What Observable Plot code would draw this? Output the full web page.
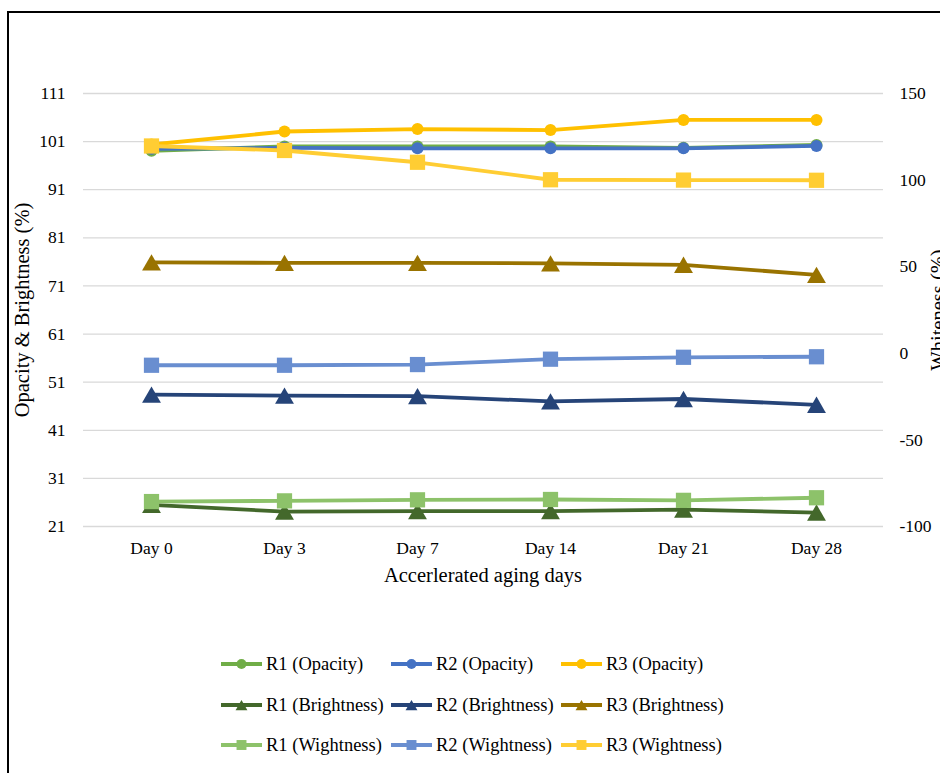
<!DOCTYPE html>
<html>
<head>
<meta charset="utf-8">
<script src="https://cdn.jsdelivr.net/npm/d3@7"></script>
<script src="https://cdn.jsdelivr.net/npm/@observablehq/plot@0.6"></script>
<style>
  html, body { margin: 0; padding: 0; background: #fff; }
  body { width: 940px; height: 773px; overflow: hidden; position: relative; font-family: "Liberation Serif", "Times New Roman", serif; color: #000; }
  #frame { position: absolute; left: 7px; top: 11px; width: 1200px; height: 1200px; border-left: 2px solid #000; border-top: 2px solid #000; }
  #chart { position: absolute; left: 0; top: 0; }
  .title { position: absolute; font-size: 20.5px; line-height: 1; white-space: nowrap; }
  .legend-item { position: absolute; height: 20px; display: flex; align-items: center; font-size: 18.5px; line-height: 20px; white-space: nowrap; }
  .legend-item svg { display: block; margin-right: 4px; }
</style>
</head>
<body>
<div id="frame"></div>
<div id="chart"></div>
<div class="title" id="xtitle" style="left:483px; top:575px; transform: translate(-50%,-50%);">Accerlerated aging days</div>
<div class="title" id="ytitle" style="left:22px; top:310px; transform: translate(-50%,-50%) rotate(-90deg);">Opacity &amp; Brightness (%)</div>
<div class="title" id="y2title" style="left:938px; top:310px; transform: translate(-50%,-50%) rotate(-90deg);">Whiteness (%)</div>
<div id="legend"></div>
<script>
// ---------- data ----------
const days = ["Day 0", "Day 3", "Day 7", "Day 14", "Day 21", "Day 28"];
const leftTicks = [21, 31, 41, 51, 61, 71, 81, 91, 101, 111];
const rightTicks = [-100, -50, 0, 50, 100, 150];

const r1Opacity = [99.1, 100.0, 100.0, 100.0, 99.7, 100.3];
const r2Opacity = [99.5, 99.7, 99.6, 99.6, 99.6, 100.1];
const r3Opacity = [100.4, 103.1, 103.6, 103.4, 105.5, 105.5];
const r1Brightness = [25.5, 24.1, 24.2, 24.2, 24.5, 23.9];
const r2Brightness = [48.4, 48.2, 48.1, 47.0, 47.5, 46.3];
const r3Brightness = [75.9, 75.8, 75.8, 75.7, 75.4, 73.3];
const r1Whiteness = [-85.6, -85.2, -84.6, -84.4, -84.9, -83.4];
const r2Whiteness = [-6.9, -6.9, -6.5, -3.4, -2.3, -2.0];
const r3Whiteness = [119.7, 117.1, 110.3, 100.2, 100.0, 99.9];

const seriesNames = ["R1 (Opacity)", "R2 (Opacity)", "R3 (Opacity)",
  "R1 (Brightness)", "R2 (Brightness)", "R3 (Brightness)",
  "R1 (Wightness)", "R2 (Wightness)", "R3 (Wightness)"];
const seriesValues = [r1Opacity, r2Opacity, r3Opacity, r1Brightness, r2Brightness, r3Brightness, r1Whiteness, r2Whiteness, r3Whiteness];
const seriesColors = ["#70AD47", "#4472C4", "#FFC000", "#43682B", "#264478", "#997300", "#8DC26A", "#698ED0", "#FFCD33"];
const seriesSymbols = ["circle", "circle", "circle", "triangle", "triangle", "triangle", "square", "square", "square"];
const seriesAxis = ["left", "left", "left", "left", "left", "left", "right", "right", "right"];

// ---------- dual axis mapping ----------
const leftDomain = [21, 111];
const rightDomain = [-100, 150];
const toLeft = v => leftDomain[0] + (v - rightDomain[0]) * (leftDomain[1] - leftDomain[0]) / (rightDomain[1] - rightDomain[0]);
const fromLeft = v => rightDomain[0] + (v - leftDomain[0]) * (rightDomain[1] - rightDomain[0]) / (leftDomain[1] - leftDomain[0]);

const symbolR = {circle: 6, square: 8.6, triangle: 7};
const symbolDy = {circle: 0, square: 0, triangle: 2.7};

const marks = [
  Plot.gridY(leftTicks, {stroke: "#d9d9d9", strokeOpacity: 1, strokeWidth: 1.3})
];
seriesNames.forEach((name, i) => {
  const rows = days.map((d, j) => ({
    day: d,
    value: seriesValues[i][j],
    y: seriesAxis[i] === "right" ? toLeft(seriesValues[i][j]) : seriesValues[i][j]
  }));
  marks.push(Plot.line(rows, {x: "day", y: "y", stroke: seriesColors[i], strokeWidth: 3.8, strokeLinejoin: "round", strokeLinecap: "round"}));
  const sym = seriesSymbols[i];
  marks.push(Plot.dot(rows, {x: "day", y: "y", symbol: sym, r: symbolR[sym], fill: seriesColors[i], stroke: "none", dy: symbolDy[sym]}));
});

marks.push(Plot.axisX({tickSize: 0, tickPadding: 15, fontSize: 17.5}));
marks.push(Plot.axisY(leftTicks, {anchor: "left", tickSize: 0, tickPadding: 18, fontSize: 17.5, label: null}));
marks.push(Plot.axisY(rightTicks.map(toLeft), {anchor: "right", tickSize: 0, tickPadding: 16, fontSize: 17.5, label: null,
  tickFormat: d => String(Math.round(fromLeft(d)))}));

const chart = Plot.plot({
  width: 940,
  height: 560,
  marginTop: 93,
  marginBottom: 34,
  marginLeft: 83,
  marginRight: 57,
  style: {fontFamily: "'Liberation Serif', 'Times New Roman', serif", fontSize: "17.5px", color: "#000", background: "transparent", overflow: "visible"},
  x: {type: "point", domain: days, padding: 0.5, align: 0.5, label: null},
  y: {domain: leftDomain, label: null},
  marks
});
document.getElementById("chart").appendChild(chart);

// ---------- legend ----------
const legend = document.getElementById("legend");
const rowY = [664, 705, 745];
const colX = [221, 391, 561];
const legendSymbolR = {circle: 5, square: 5.6, triangle: 4.4};
seriesNames.forEach((name, i) => {
  const col = i % 3, row = Math.floor(i / 3);
  const item = document.createElement("div");
  item.className = "legend-item";
  item.style.left = colX[col] + "px";
  item.style.top = (rowY[row] - 10) + "px";
  const sym = seriesSymbols[i];
  const symType = sym === "circle" ? d3.symbolCircle : sym === "square" ? d3.symbolSquare : d3.symbolTriangle;
  const rr = legendSymbolR[sym];
  const path = d3.symbol(symType, rr * rr * Math.PI)();
  const dy = sym === "triangle" ? 1.8 : 0;
  item.innerHTML = `<svg width="41" height="20" viewBox="0 0 41 20">
      <line x1="0" x2="41" y1="10" y2="10" stroke="${seriesColors[i]}" stroke-width="4"/>
      <path d="${path}" transform="translate(20.5,${10 + dy})" fill="${seriesColors[i]}"/>
    </svg><span>${name}</span>`;
  legend.appendChild(item);
});
</script>
</body>
</html>
